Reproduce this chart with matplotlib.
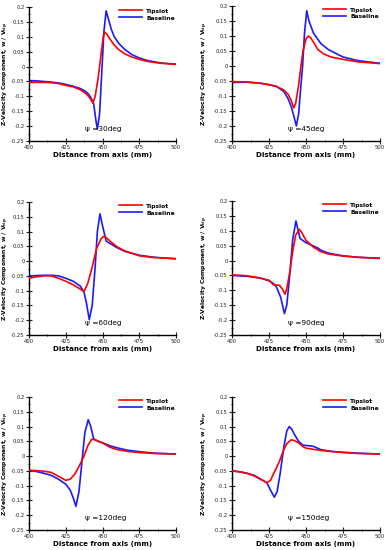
import matplotlib
matplotlib.use("Agg")
import matplotlib.pyplot as plt
from matplotlib.ticker import MultipleLocator, FuncFormatter

# ---- data ----
psi_labels = ["30", "45", "60", "90", "120", "150"]

x_tip_30 = [400, 405, 410, 415, 420, 425, 430, 435, 438, 440, 442, 443.5, 445, 447, 449, 450.5, 451.5, 453, 455, 458, 461, 465, 470, 475, 480, 485, 490, 495, 500]
y_tip_30 = [-0.053, -0.053, -0.053, -0.054, -0.057, -0.063, -0.068, -0.078, -0.088, -0.097, -0.110, -0.123, -0.100, -0.040, 0.040, 0.100, 0.116, 0.108, 0.093, 0.072, 0.057, 0.043, 0.032, 0.024, 0.018, 0.014, 0.011, 0.009, 0.007]
x_base_30 = [400, 405, 410, 415, 420, 425, 430, 435, 438, 440, 442, 444, 445.5, 446.5, 448, 449.5, 451, 452.5, 454, 456, 458, 461, 465, 470, 475, 480, 485, 490, 495, 500]
y_base_30 = [-0.047, -0.048, -0.050, -0.052, -0.055, -0.060, -0.066, -0.074, -0.082, -0.090, -0.103, -0.125, -0.180, -0.210, -0.160, -0.020, 0.120, 0.187, 0.160, 0.125, 0.100, 0.078, 0.058, 0.040, 0.029, 0.021, 0.016, 0.012, 0.010, 0.008]

x_tip_45 = [400, 410, 420, 425, 430, 435, 438, 440, 441.7, 443, 445, 446.6, 448, 450, 451.6, 453, 455, 458, 462, 467, 475, 485, 500]
y_tip_45 = [-0.052, -0.053, -0.058, -0.063, -0.068, -0.080, -0.095, -0.115, -0.140, -0.125, -0.065, 0.000, 0.050, 0.090, 0.100, 0.095, 0.080, 0.055, 0.040, 0.030, 0.022, 0.014, 0.008]
x_base_45 = [400, 410, 420, 425, 430, 435, 438, 440, 441.4, 443.5, 445, 446.5, 447.7, 449, 450.5, 452, 455, 460, 465, 475, 485, 500]
y_base_45 = [-0.055, -0.054, -0.058, -0.062, -0.068, -0.085, -0.110, -0.135, -0.160, -0.200, -0.160, -0.070, 0.000, 0.110, 0.184, 0.150, 0.110, 0.075, 0.055, 0.030, 0.018, 0.009]

x_tip_60 = [400, 405, 410, 415, 420, 425, 430, 435, 437.4, 440, 443, 446, 449, 450.8, 453, 455, 460, 465, 475, 485, 500]
y_tip_60 = [-0.058, -0.053, -0.050, -0.050, -0.058, -0.068, -0.080, -0.095, -0.103, -0.075, -0.020, 0.043, 0.075, 0.084, 0.078, 0.068, 0.048, 0.035, 0.018, 0.012, 0.008]
x_base_60 = [400, 405, 410, 415, 420, 425, 430, 435, 437.4, 439, 441, 443, 445, 446.5, 448.3, 450, 452.5, 455, 460, 465, 475, 485, 500]
y_base_60 = [-0.050, -0.049, -0.048, -0.048, -0.050, -0.058, -0.068, -0.085, -0.105, -0.140, -0.198, -0.150, -0.020, 0.100, 0.160, 0.120, 0.068, 0.060, 0.045, 0.033, 0.020, 0.013, 0.008]

x_tip_90 = [400, 410, 415, 420, 425, 428, 432, 434, 435.8, 437, 439, 441, 443, 445.5, 447, 450, 455, 460, 465, 475, 485, 500]
y_tip_90 = [-0.048, -0.051, -0.055, -0.060, -0.066, -0.081, -0.083, -0.095, -0.113, -0.095, -0.040, 0.030, 0.085, 0.105, 0.095, 0.068, 0.045, 0.030, 0.022, 0.015, 0.011, 0.007]
x_base_90 = [400, 410, 415, 420, 425, 428, 430, 433, 435.4, 437, 439, 441, 443.2, 446, 450, 455, 458, 460, 465, 475, 485, 500]
y_base_90 = [-0.050, -0.053, -0.056, -0.060, -0.068, -0.077, -0.088, -0.125, -0.178, -0.150, -0.050, 0.070, 0.133, 0.074, 0.060, 0.049, 0.042, 0.035, 0.025, 0.016, 0.011, 0.008]

x_tip_120 = [400, 405, 410, 415, 420, 425, 428, 431, 434, 437, 440, 442.6, 445, 450, 455, 460, 467, 475, 485, 500]
y_tip_120 = [-0.048, -0.049, -0.051, -0.055, -0.068, -0.082, -0.078, -0.062, -0.035, -0.005, 0.035, 0.057, 0.055, 0.045, 0.030, 0.022, 0.016, 0.012, 0.009, 0.007]
x_base_120 = [400, 405, 410, 415, 420, 425, 428, 430, 431.9, 434, 436, 438, 440.3, 442, 444, 447, 450, 455, 460, 467, 475, 485, 500]
y_base_120 = [-0.048, -0.052, -0.058, -0.065, -0.078, -0.095, -0.115, -0.140, -0.170, -0.120, -0.020, 0.080, 0.123, 0.100, 0.058, 0.050, 0.045, 0.035, 0.028, 0.020, 0.015, 0.010, 0.007]

x_tip_150 = [400, 405, 410, 415, 420, 423.6, 426, 428, 430, 432, 435, 437, 439.9, 442, 445, 448, 450, 455, 462, 475, 485, 500]
y_tip_150 = [-0.050, -0.053, -0.058, -0.067, -0.080, -0.090, -0.082, -0.060, -0.040, -0.018, 0.022, 0.042, 0.055, 0.053, 0.045, 0.032, 0.027, 0.023, 0.018, 0.012, 0.009, 0.007]
x_base_150 = [400, 405, 410, 415, 420, 423.5, 426, 428.6, 430.5, 432.5, 435, 437, 438.7, 440.5, 442, 445, 448, 452, 455, 460, 467, 475, 485, 500]
y_base_150 = [-0.050, -0.053, -0.058, -0.065, -0.080, -0.090, -0.115, -0.139, -0.120, -0.060, 0.030, 0.085, 0.100, 0.090, 0.075, 0.050, 0.037, 0.035, 0.033, 0.022, 0.016, 0.013, 0.010, 0.007]

tips_x = [x_tip_30, x_tip_45, x_tip_60, x_tip_90, x_tip_120, x_tip_150]
tips_y = [y_tip_30, y_tip_45, y_tip_60, y_tip_90, y_tip_120, y_tip_150]
base_x = [x_base_30, x_base_45, x_base_60, x_base_90, x_base_120, x_base_150]
base_y = [y_base_30, y_base_45, y_base_60, y_base_90, y_base_120, y_base_150]

# ---- layout (pixel boxes: left, top, right, bottom) ----
W, H = 388, 550
boxes = [(29, 7, 176, 141), (232, 6, 380, 141),
         (29, 202, 176, 335), (232, 201, 380, 335),
         (29, 397, 176, 530), (232, 397, 380, 530)]
ylabel_px = [11, 210, 11, 210, 11, 210]

fig = plt.figure(figsize=(W / 100, H / 100), dpi=100)

def fmt(v, pos):
    s = f"{v:.2f}".rstrip("0").rstrip(".")
    if s in ("-0", "0"):
        return "0"
    return s

for i, (l, t, r, b) in enumerate(boxes):
    ax = fig.add_axes([l / W, 1 - b / H, (r - l) / W, (b - t) / H])
    ax.plot(tips_x[i], tips_y[i], color="#ff0000", lw=1.2, label="Tipslot", zorder=3)
    ax.plot(base_x[i], base_y[i], color="#1a1aff", lw=1.2, label="Baseline", zorder=2)
    ax.set_xlim(400, 500)
    ax.set_ylim(-0.25, 0.2)
    ax.spines["top"].set_visible(False)
    ax.spines["right"].set_visible(False)
    for s in ("left", "bottom"):
        ax.spines[s].set_linewidth(1.0)
    ax.xaxis.set_major_locator(MultipleLocator(25))
    ax.xaxis.set_minor_locator(MultipleLocator(12.5))
    ax.yaxis.set_major_locator(MultipleLocator(0.05))
    ax.yaxis.set_minor_locator(MultipleLocator(0.025))
    ax.yaxis.set_major_formatter(FuncFormatter(fmt))
    ax.tick_params(which="major", direction="inout", length=4, width=0.8,
                   labelsize=3.8, pad=1, colors="#222222")
    ax.tick_params(which="minor", direction="inout", length=2, width=0.6)
    ax.set_xlabel("Distance from axis (mm)", fontsize=5.1, fontweight="bold", labelpad=1)
    ax.set_ylabel(r"Z-Velocity Component, w / V$_{\mathbf{tip}}$", fontsize=4.3,
                  fontweight="bold")
    ax.yaxis.set_label_coords((ylabel_px[i] - l) / (r - l), 0.5)
    ax.text(438, -0.21, "\u03c8 =" + psi_labels[i] + "deg", fontsize=5.3, va="center", ha="left")
    ax.legend(loc="upper right", bbox_to_anchor=(1.03, 1.03), frameon=False,
              prop={"size": 4.3, "weight": "bold"}, handlelength=3.8,
              handletextpad=0.8, labelspacing=0.3)

fig.savefig("out.png", dpi=100)
